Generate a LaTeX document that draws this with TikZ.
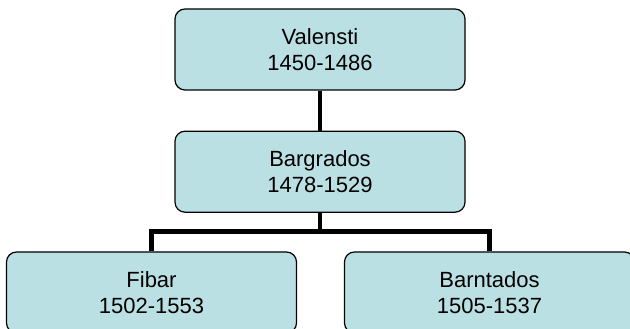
\documentclass[tikz,border=0pt]{standalone}
\usepackage{fontspec}
\setmainfont{Liberation Sans}
\usepackage{xcolor}
\usetikzlibrary{positioning}

\definecolor{boxfill}{HTML}{BBE0E3}

\begin{document}
\begin{tikzpicture}[x=1pt, y=1pt, node distance=40pt,
		      box/.style = {draw=black, line width=1.2pt, fill=boxfill,
		      rounded corners=10pt, minimum width=290pt, minimum height=81pt,
		      align=center, font=\fontsize{22}{26.7}\selectfont},
		      link/.style = {line width=4.7pt} ]
\useasboundingbox (0,0) rectangle (630,329);

   \node (valensti)  [box] at (320,279.5) {Valensti\\1450-1486};
   \node (bargrados) [box, below=of valensti] {Bargrados\\1478-1529};
   \node (fibar)     [box] at (151.5,36.5) {Fibar\\1502-1553};
   \node (barntados) [box] at (489.5,36.5) {Barntados\\1505-1537};

% connectors
\draw[link] (valensti) -- (bargrados);
\draw[link] (bargrados.south) -- ++(0,-19) coordinate (fork);
\draw[link] (fibar.north) |- (fork) -| (barntados.north);
\end{tikzpicture}
\end{document}
